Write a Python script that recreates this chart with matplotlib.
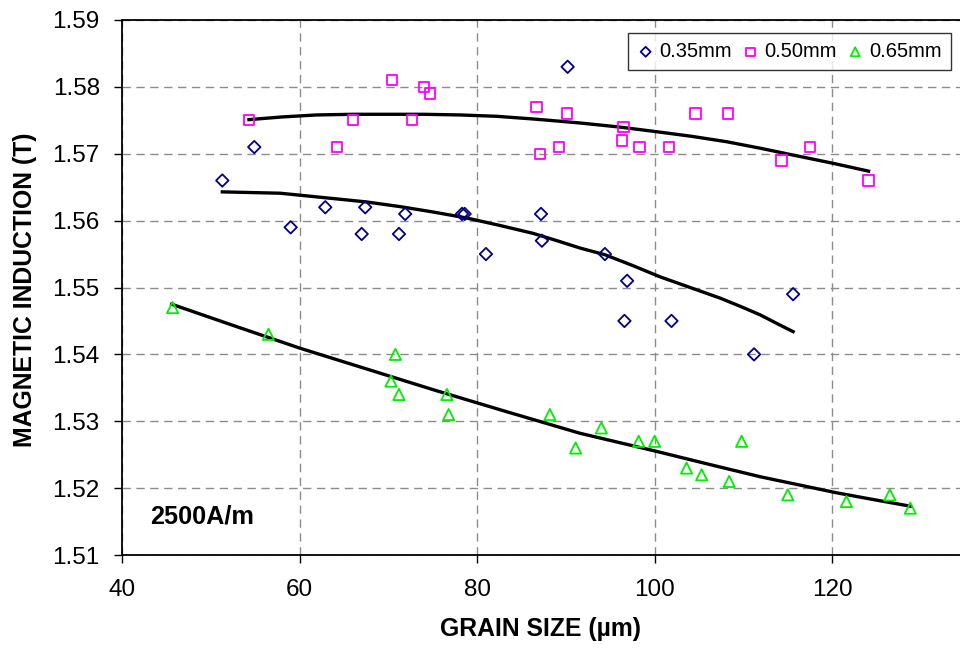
import matplotlib
matplotlib.use("Agg")
import matplotlib.pyplot as plt

plt.rcParams['font.family'] = ['Liberation Sans', 'DejaVu Sans']

# 0.35mm data (diamonds)
x035 = [51.3, 54.9, 59.0, 62.9, 67.4, 67.0, 71.9, 71.2, 78.3, 78.6, 81.0, 87.2, 87.3, 90.2,
        94.4, 96.9, 96.6, 101.9, 111.2, 115.6]
y035 = [1.566, 1.571, 1.559, 1.562, 1.562, 1.558, 1.561, 1.558, 1.561, 1.561, 1.555, 1.561, 1.557, 1.583,
        1.555, 1.551, 1.545, 1.545, 1.540, 1.549]
# 0.50mm data (squares)
x050 = [54.3, 64.2, 66.0, 70.4, 74.0, 74.7, 72.7, 86.7, 87.1, 89.2, 90.1,
        96.3, 96.5, 98.3, 101.6, 104.6, 108.3, 114.3, 117.5, 124.1]
y050 = [1.575, 1.571, 1.575, 1.581, 1.580, 1.579, 1.575, 1.577, 1.570, 1.571, 1.576,
        1.572, 1.574, 1.571, 1.571, 1.576, 1.576, 1.569, 1.571, 1.566]
# 0.65mm data (triangles)
x065 = [45.7, 56.5, 70.8, 70.3, 71.2, 76.6, 76.8, 88.2, 91.1, 94.0, 98.2, 100.0,
        103.6, 105.3, 108.4, 109.8, 115.0, 121.6, 126.5, 128.8]
y065 = [1.547, 1.543, 1.540, 1.536, 1.534, 1.534, 1.531, 1.531, 1.526, 1.529, 1.527, 1.527,
        1.523, 1.522, 1.521, 1.527, 1.519, 1.518, 1.519, 1.517]

# trend lines
tx035 = [51.3, 54.5, 57.8, 60.8, 63.8, 67.5, 71.3, 75.0, 78.8, 82.5, 86.3, 89.0, 91.6, 94.4, 97.5, 100.6, 104.0, 107.4, 109.8, 111.9, 113.8, 115.6]
ty035 = [1.5643, 1.5642, 1.5641, 1.5637, 1.5633, 1.5628, 1.5621, 1.5613, 1.5604, 1.5593, 1.5581, 1.5570, 1.5559, 1.5549, 1.5533, 1.5516, 1.5500, 1.5484, 1.5471, 1.5459, 1.5446, 1.5434]
tx050 = [54.3, 58.0, 61.9, 66.0, 70.0, 74.0, 78.1, 82.2, 86.3, 89.0, 91.6, 96.0, 100.2, 104.2, 108.1, 112.0, 115.6, 120.0, 124.1]
ty050 = [1.5751, 1.5755, 1.5758, 1.5759, 1.5759, 1.5759, 1.5758, 1.5756, 1.5752, 1.5749, 1.5746, 1.5740, 1.5733, 1.5726, 1.5718, 1.5708, 1.5698, 1.5686, 1.5674]
tx065 = [45.6, 52.8, 60.1, 67.6, 75.1, 83.4, 91.6, 100.2, 106.0, 111.9, 116.2, 120.5, 124.6, 128.8]
ty065 = [1.5475, 1.5442, 1.5409, 1.5378, 1.5347, 1.5314, 1.5282, 1.5255, 1.5236, 1.5217, 1.5205, 1.5193, 1.5183, 1.5173]

xticks = [40, 60, 80, 100, 120]
yticks = [1.51, 1.52, 1.53, 1.54, 1.55, 1.56, 1.57, 1.58, 1.59]

fig = plt.figure(figsize=(9.6, 6.55), dpi=100)
ax = fig.add_axes([122/960, 100/655, (960-122)/960, 535/655])

ax.set_xlim(40, 134.4)
ax.set_ylim(1.51, 1.59)

ax.set_xticks(xticks)
ax.set_yticks(yticks)
ax.set_xticklabels([str(v) for v in xticks])
ax.set_yticklabels([f"{v:.2f}" for v in yticks])
ax.tick_params(axis='both', direction='out', length=6, width=1, labelsize=17.5, colors='black')
ax.tick_params(axis='x', pad=11)
ax.tick_params(axis='y', pad=10)

ax.grid(True, color='#8c8c8c', linestyle=(0, (6, 4)), linewidth=1)
ax.set_axisbelow(True)
for s in ['left', 'bottom', 'top']:
    ax.spines[s].set_linewidth(1.3)
    ax.spines[s].set_color('black')
ax.spines['right'].set_visible(False)

ax.plot(tx035, ty035, color='black', lw=2.4, zorder=3)
ax.plot(tx050, ty050, color='black', lw=2.4, zorder=3)
ax.plot(tx065, ty065, color='black', lw=2.4, zorder=3)

ax.scatter(x035, y035, marker='D', s=40, facecolors='none', edgecolors='#000080', linewidths=1.3, zorder=4, label='0.35mm')
ax.scatter(x050, y050, marker='s', s=55, facecolors='none', edgecolors='#ff00ff', linewidths=1.3, zorder=4, label='0.50mm')
ax.scatter(x065, y065, marker='^', s=65, facecolors='none', edgecolors='#00ee00', linewidths=1.3, zorder=4, label='0.65mm')

leg = ax.legend(loc='upper right', bbox_to_anchor=(951/960, 1 - 33/655), bbox_transform=fig.transFigure,
                ncol=3, fontsize=14.5, frameon=True, fancybox=False, handletextpad=0.25,
                columnspacing=0.45, handlelength=0.9, borderpad=0.45, borderaxespad=0, markerscale=0.8)
leg.get_frame().set_edgecolor('black')
leg.get_frame().set_linewidth(1.0)

ax.text(150/960, 1 - 517/655, '2500A/m', transform=fig.transFigure, fontsize=18.2,
        fontweight='bold', va='center', ha='left')

ax.set_xlabel('GRAIN SIZE (µm)', fontsize=17.8, fontweight='bold', labelpad=12)
fig.text(25/960, 1 - 290/655, 'MAGNETIC INDUCTION (T)', rotation=90, fontsize=17.8,
         fontweight='bold', va='center', ha='center')

fig.savefig('out.png', dpi=100)
